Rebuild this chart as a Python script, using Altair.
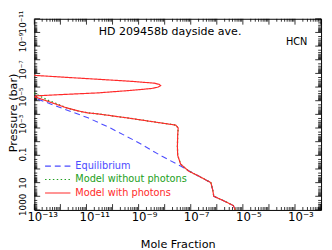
import math
import altair as alt
import pandas as pd

W, H = 294, 196

SERIES = ["Equilibrium", "Model without photons", "Model with photons"]
COLORS = ["#4b4bff", "#22a022", "#ff2a2a"]
DASHES = [[6, 4], [1.5, 2.5], [1, 0]]

# Equilibrium (blue dashed)
EQ_X = [2.75e-14, 1.0e-13, 8.6e-13, 1.14e-11, 8.3e-11, 8.5e-10, 7.96e-9, 4.09e-8,
        1.37e-7, 2.1e-7, 5.92e-7, 7.03e-7, 7.65e-7, 1.66e-6, 4.3e-6, 5.1e-6]
EQ_P = [2.28e-6, 6.1e-6, 2.91e-5, 1.78e-4, 1.0e-3, 1.0e-2, 0.118, 0.611,
        2.28, 3.43, 10, 37.3, 100, 193, 477, 1000]

# Model without photons (green dotted)
NOPH_X = [5e-14, 1.0e-13, 1.83e-13, 3.64e-13, 7.26e-13, 1.58e-12, 4.83e-12, 1.14e-11,
          2.7e-11, 4.6e-10, 6.15e-9, 2.66e-8, 3.3e-8, 3.16e-8, 3.08e-8, 3.16e-8,
          4.09e-8, 8.17e-8, 2.1e-7, 5.92e-7, 7.03e-7, 7.65e-7, 1.66e-6, 4.3e-6, 5.1e-6]
NOPH_P = [2.0e-6, 2.68e-6, 5.18e-6, 1.0e-5, 1.64e-5, 3.16e-5, 5.62e-5, 7.81e-5,
          9.2e-5, 1.93e-4, 4.05e-4, 6.1e-4, 1.0e-3, 3.16e-3, 0.0228, 0.1,
          0.44, 1.39, 3.43, 10, 37.3, 100, 193, 477, 1000]

# Model with photons (red solid)
PH_X = [1e-14, 1.0e-13, 1.58e-12, 2.7e-11, 4.6e-10, 4.0e-9, 6.15e-9, 7.0e-9, 5.65e-9,
        3.1e-9, 4.6e-10, 2.7e-11, 1.58e-12, 1.19e-13, 1.04e-13, 3.64e-13, 1.58e-12,
        4.83e-12, 1.14e-11, 2.7e-11, 4.6e-10, 6.15e-9, 2.66e-8, 3.3e-8, 3.16e-8,
        3.08e-8, 3.16e-8, 4.09e-8, 8.17e-8, 2.1e-7, 5.92e-7, 7.03e-7, 7.65e-7,
        1.66e-6, 4.3e-6, 5.1e-6]
PH_P = [1.0e-7, 1.39e-7, 1.93e-7, 2.68e-7, 3.73e-7, 5.18e-7, 6.31e-7, 7.82e-7, 1.0e-6,
        1.28e-6, 1.78e-6, 2.68e-6, 3.43e-6, 4.39e-6, 5.18e-6, 1.18e-5, 3.16e-5,
        5.62e-5, 7.81e-5, 9.2e-5, 1.93e-4, 4.05e-4, 6.1e-4, 1.0e-3, 3.16e-3,
        0.0228, 0.1, 0.44, 1.39, 3.43, 10, 37.3, 100,
        193, 477, 1000]

X_TICK_VALUES = [1e-13, 1e-11, 1e-9, 1e-7, 1e-5, 1e-3]
X_TICK_LABELS = ["10⁻¹³", "10⁻¹¹", "10⁻⁹", "10⁻⁷", "10⁻⁵", "10⁻³"]
Y_TICK_VALUES = [1e-11, 1e-9, 1e-7, 1e-5, 1e-3, 0.1, 10, 1000]
Y_TICK_LABELS = ["10⁻¹¹", "10⁻⁹", "10⁻⁷", "10⁻⁵", "10⁻³", "0.1", "10", "1000"]

X_DECADES = list(range(-13, -1))
Y_DECADES = list(range(-11, 4))

TITLE = "HD 209458b dayside ave."
SPECIES = "HCN"

rows = []
for name, xs, ps in [(SERIES[0], EQ_X, EQ_P), (SERIES[1], NOPH_X, NOPH_P), (SERIES[2], PH_X, PH_P)]:
    for i, (xv, pv) in enumerate(zip(xs, ps)):
        rows.append({"series": name, "x": xv, "p": pv, "i": i})
df = pd.DataFrame(rows)


def label_expr(values, labels):
    expr = "''"
    for v, l in zip(values, labels):
        e = round(math.log10(v))
        expr = f"round(log(datum.value)/LN10) == {e} ? '{l}' : ({expr})"
    return expr


color_expr = "'black'"
for s, c in zip(SERIES, COLORS):
    color_expr = f"datum.value == '{s}' ? '{c}' : ({color_expr})"

xscale = alt.Scale(type="log", domain=[1e-13, 1e-2], nice=False)
yscale = alt.Scale(type="log", domain=[1e-11, 1e3], nice=False, reverse=True)

xaxis = alt.Axis(values=X_TICK_VALUES, labelExpr=label_expr(X_TICK_VALUES, X_TICK_LABELS),
                 title="Mole Fraction", labelAlign="left", labelOffset=-7.6, labelBaseline="top",
                 labelPadding=2, labelFontSize=12, titleFontSize=11.5, titleFontWeight="normal",
                 titleY=38, titleBaseline="alphabetic", labelFlush=False, labelOverlap=False,
                 ticks=False, tickSize=0, domain=False, grid=False)
yaxis = alt.Axis(values=Y_TICK_VALUES, labelExpr=label_expr(Y_TICK_VALUES, Y_TICK_LABELS),
                 title="Pressure (bar)", labelAngle=270, labelAlign="left",
                 labelOffset={"condition": {"test": "datum.value < 2e-11", "value": 14.5}, "value": 5.7},
                 labelBaseline="bottom",
                 labelPadding=7, labelFontSize=9, titleFontSize=11.5, titleFontWeight="normal",
                 titleX=-16, titleY=96, titleAngle=270, titleBaseline="bottom",
                 labelFlush=False, labelOverlap=False, ticks=False, tickSize=0, domain=False, grid=False)

legend = alt.Legend(title=None, orient="none", legendX=16.5, legendY=143.5,
                    symbolType="M-2,0H2", symbolSize=169, symbolStrokeWidth=1.2,
                    labelFontSize=10, labelFont="DejaVu Sans", labelOffset=10.5,
                    rowPadding=0.8, labelLimit=0, padding=0, offset=0,
                    labelColor=alt.ExprRef(expr=color_expr))

color_scale = alt.Scale(domain=SERIES, range=COLORS)
dash_scale = alt.Scale(domain=SERIES, range=DASHES)

# tick marks (inward, on all four sides)
xt = []
for e in X_DECADES:
    for k in range(1, 10):
        v = k * 10.0 ** e
        if v <= 1e-2 * 1.0001:
            xt.append({"x": v, "major": k == 1})
xt.append({"x": 1e-2, "major": True})
xt_df = pd.DataFrame(xt)
yt = []
for e in Y_DECADES:
    for k in range(1, 10):
        v = k * 10.0 ** e
        if v <= 1e3 * 1.0001:
            yt.append({"p": v, "major": k == 1})
yt_df = pd.DataFrame(yt)

MAJ, MIN = 6, 3
layers = []
for major, ln in [(True, MAJ), (False, MIN)]:
    xsub = xt_df[xt_df.major == major]
    ysub = yt_df[yt_df.major == major]
    for y0, y1 in [(H, H - ln), (0, ln)]:
        layers.append(alt.Chart(xsub).mark_rule(color="black", strokeWidth=0.8).encode(
            x=alt.X("x:Q", scale=xscale, axis=xaxis), y=alt.value(y0), y2=alt.value(y1)))
    for x0, x1 in [(0, ln), (W, W - ln)]:
        layers.append(alt.Chart(ysub).mark_rule(color="black", strokeWidth=0.8).encode(
            y=alt.Y("p:Q", scale=yscale, axis=yaxis), x=alt.value(x0), x2=alt.value(x1)))

for name, sw in [(SERIES[0], 1.1), (SERIES[1], 1.3), (SERIES[2], 1.2)]:
    layers.append(alt.Chart(df).transform_filter(alt.datum.series == name).mark_line(
        clip=True, strokeWidth=sw).encode(
        x=alt.X("x:Q", scale=xscale, axis=xaxis),
        y=alt.Y("p:Q", scale=yscale, axis=yaxis),
        order="i:Q",
        color=alt.Color("series:N", scale=color_scale, legend=legend),
        strokeDash=alt.StrokeDash("series:N", scale=dash_scale, legend=legend)))

layers.append(alt.Chart(pd.DataFrame({"t": [TITLE]})).mark_text(
    align="left", baseline="middle", fontSize=11.3, font="DejaVu Sans", color="black").encode(
    text="t:N", x=alt.value(66), y=alt.value(13.5)))
layers.append(alt.Chart(pd.DataFrame({"t": [SPECIES]})).mark_text(
    align="left", baseline="middle", fontSize=10, font="DejaVu Sans", color="black").encode(
    text="t:N", x=alt.value(258), y=alt.value(24)))

chart = alt.layer(*layers).properties(
    width=W, height=H, autosize="none",
    padding={"left": 27, "top": 8, "right": 3, "bottom": 38},
    background="white",
).configure_view(stroke="black", strokeWidth=1).configure_axis(
    labelFont="DejaVu Sans", titleFont="DejaVu Sans", labelColor="black", titleColor="black")

chart.save("out.html", embed_options={"renderer": "svg", "actions": False})
